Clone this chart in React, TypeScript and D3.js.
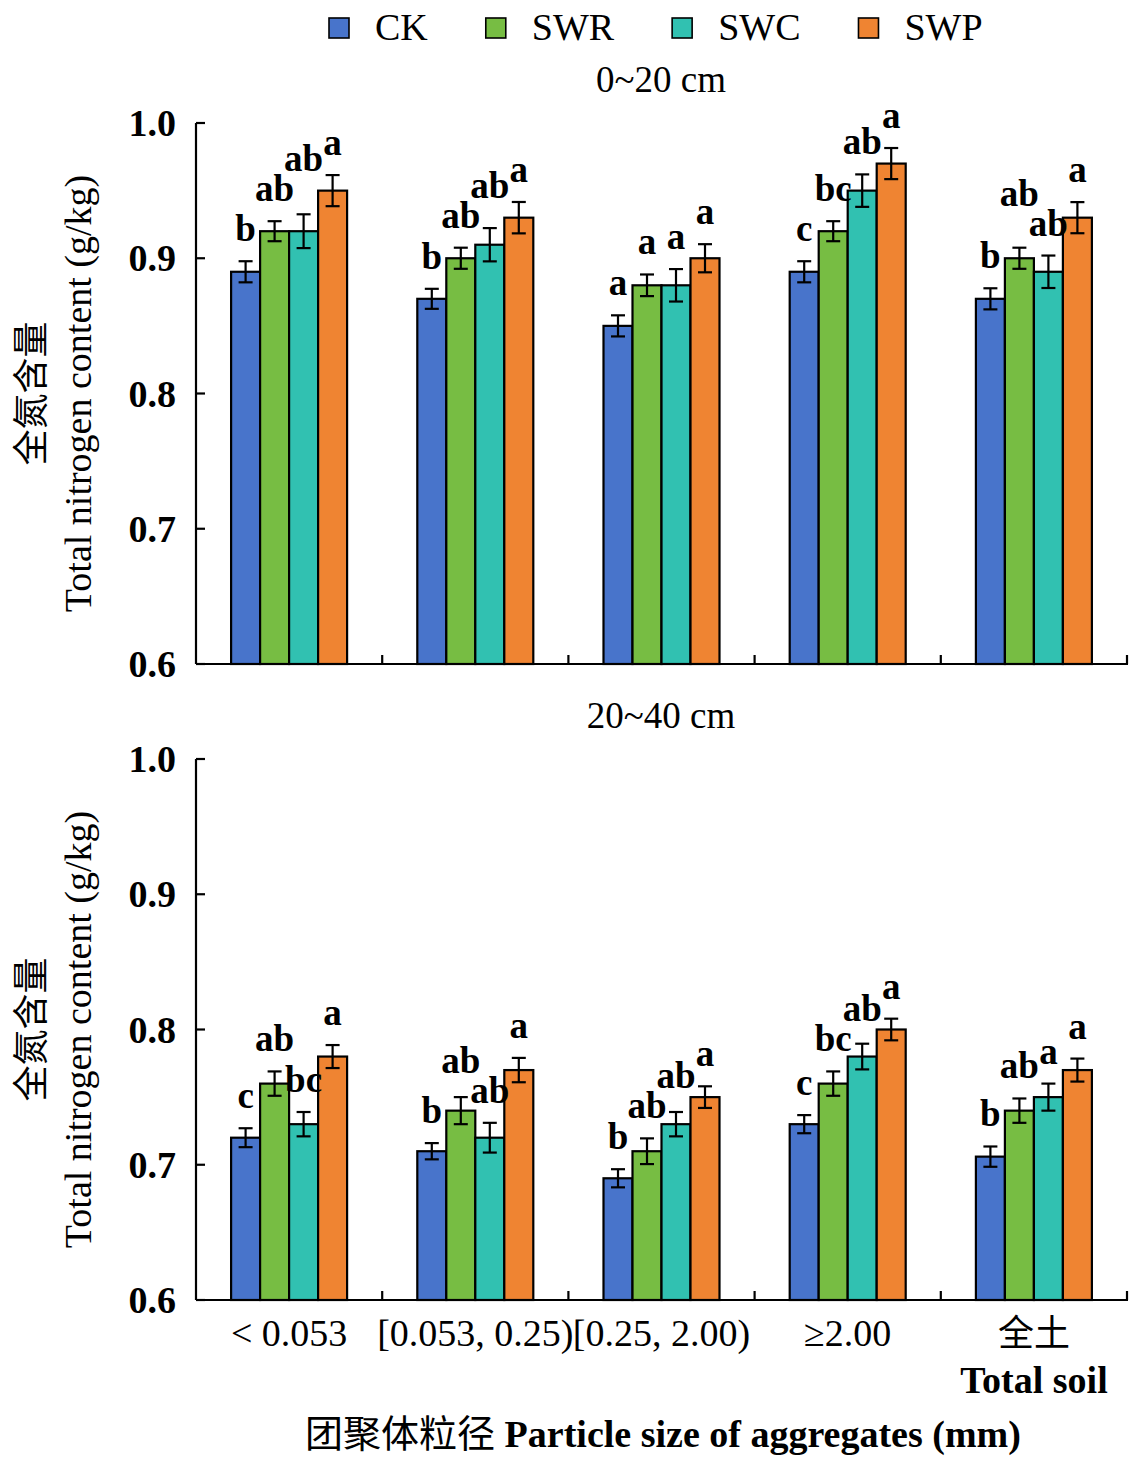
import React from "react";
import * as d3 from "d3";

const categories = ["< 0.053", "[0.053, 0.25)", "[0.25, 2.00)", "≥2.00", "全土"];
const series = ["CK", "SWR", "SWC", "SWP"];
const panelTitles = ["0~20 cm", "20~40 cm"];
const yTicks = [0.6, 0.7, 0.8, 0.9, 1.0];

// 0~20 cm: rows = CK, SWR, SWC, SWP ; cols = categories
const meansTop = [
  [0.89, 0.87, 0.85, 0.89, 0.87],
  [0.92, 0.9, 0.88, 0.92, 0.9],
  [0.92, 0.91, 0.88, 0.95, 0.89],
  [0.95, 0.93, 0.9, 0.97, 0.93],
];
const errTop = [
  [0.0078, 0.0074, 0.0078, 0.0078, 0.0078],
  [0.0074, 0.0078, 0.008, 0.0074, 0.0078],
  [0.0125, 0.0123, 0.012, 0.012, 0.012],
  [0.0115, 0.0116, 0.0104, 0.0115, 0.0115],
];
const lettersTop = [
  ["b", "b", "a", "c", "b"],
  ["ab", "ab", "a", "bc", "ab"],
  ["ab", "ab", "a", "ab", "ab"],
  ["a", "a", "a", "a", "a"],
];

// 20~40 cm
const meansBottom = [
  [0.72, 0.71, 0.69, 0.73, 0.706],
  [0.76, 0.74, 0.71, 0.76, 0.74],
  [0.73, 0.72, 0.73, 0.78, 0.75],
  [0.78, 0.77, 0.75, 0.8, 0.77],
];
const errBottom = [
  [0.007, 0.006, 0.0067, 0.0067, 0.0075],
  [0.009, 0.01, 0.0095, 0.009, 0.009],
  [0.009, 0.011, 0.009, 0.0095, 0.01],
  [0.0085, 0.009, 0.008, 0.008, 0.0085],
];
const lettersBottom = [
  ["c", "b", "b", "c", "b"],
  ["ab", "ab", "ab", "bc", "ab"],
  ["bc", "ab", "ab", "ab", "a"],
  ["a", "a", "a", "a", "a"],
];

const colors = ["#4874CB", "#77BD43", "#31C1B1", "#EF8432"];
const SERIF = "'Liberation Serif', 'Times New Roman', serif";
const CJK = "'Noto Sans CJK SC', sans-serif";

const W = 1139;
const H = 1467;
const X0 = 196;
const X1 = 1127;

const x = d3.scaleBand<string>().domain(categories).range([X0, X1]).paddingInner(0).paddingOuter(0);

function measure(text: string, font: string, fallback: number) {
  try {
    const c = document.createElement("canvas");
    const ctx = c.getContext("2d");
    if (!ctx) return fallback;
    ctx.font = font;
    const w = ctx.measureText(text).width;
    return w > 0 ? w : fallback;
  } catch (e) {
    return fallback;
  }
}

function Panel({ top, bottom, means, errs, letters, title }: any) {
  const y = d3.scaleLinear().domain([0.6, 1.0]).range([bottom, top]);
  const groupW = x.bandwidth() * 0.623;
  const inner = d3.scaleBand<string>().domain(series).range([-groupW / 2, groupW / 2]).padding(0);
  const bw = inner.bandwidth();
  const cap = 7;

  const labels: any[] = [];
  categories.forEach((c, ci) => {
    const grp: any[] = series.map((s, si) => {
      const cx = (x(c) as number) + x.bandwidth() / 2 + (inner(s) as number) + bw / 2;
      const t = letters[si][ci];
      return {
        key: `${ci}-${si}`,
        x: cx,
        y: y(means[si][ci] + errs[si][ci]) - 20,
        t,
        w: t.length * 17.5,
      };
    });
    for (let i = 1; i < grp.length; i++) {
      const a = grp[i - 1];
      const b = grp[i];
      const xo = a.x + a.w / 2 > b.x - b.w / 2 + 1 && b.x + b.w / 2 > a.x - a.w / 2 + 1;
      if (xo && Math.abs(a.y - b.y) < 28) {
        if (b.y <= a.y) b.y = a.y - 30;
        else a.y = b.y - 30;
      }
    }
    labels.push(...grp);
  });

  const midY = (top + bottom) / 2;

  return (
    <g>
      <text x={661} y={top - 31} textAnchor="middle" fontFamily={SERIF} fontSize={37}>
        {title}
      </text>
      {categories.map((c, ci) =>
        series.map((s, si) => {
          const bx = (x(c) as number) + x.bandwidth() / 2 + (inner(s) as number);
          const v = means[si][ci];
          return (
            <rect
              key={`b${ci}-${si}`}
              x={bx}
              y={y(v)}
              width={bw}
              height={y(0.6) - y(v)}
              fill={colors[si]}
              stroke="#000"
              strokeWidth={2.2}
            />
          );
        })
      )}
      {categories.map((c, ci) =>
        series.map((s, si) => {
          const cx = (x(c) as number) + x.bandwidth() / 2 + (inner(s) as number) + bw / 2;
          const v = means[si][ci];
          const e = errs[si][ci];
          return (
            <g key={`e${ci}-${si}`} stroke="#000" strokeWidth={2.2}>
              <line x1={cx} x2={cx} y1={y(v - e)} y2={y(v + e)} />
              <line x1={cx - cap} x2={cx + cap} y1={y(v + e)} y2={y(v + e)} />
              <line x1={cx - cap} x2={cx + cap} y1={y(v - e)} y2={y(v - e)} />
            </g>
          );
        })
      )}
      {labels.map((l) => (
        <text key={l.key} x={l.x} y={l.y} textAnchor="middle" fontFamily={SERIF} fontWeight="bold" fontSize={37}>
          {l.t}
        </text>
      ))}
      <line x1={X0} x2={X0} y1={top} y2={bottom} stroke="#000" strokeWidth={2.2} />
      <line x1={X0} x2={X1 + 1} y1={bottom} y2={bottom} stroke="#000" strokeWidth={2.2} />
      {yTicks.map((t) => (
        <g key={t}>
          <line x1={X0} x2={X0 + 9} y1={y(t)} y2={y(t)} stroke="#000" strokeWidth={2.2} />
          <text x={176} y={y(t) + 13} textAnchor="end" fontFamily={SERIF} fontWeight="bold" fontSize={38}>
            {t.toFixed(1)}
          </text>
        </g>
      ))}
      {categories.map((c) => {
        const bx = (x(c) as number) + x.bandwidth();
        return <line key={c} x1={bx} x2={bx} y1={bottom} y2={bottom - 9} stroke="#000" strokeWidth={2.2} />;
      })}
      <text transform={`translate(44, ${midY}) rotate(-90)`} textAnchor="middle" fontFamily={CJK} fontSize={36}>
        全氮含量
      </text>
      <text transform={`translate(91, ${midY}) rotate(-90)`} textAnchor="middle" fontFamily={SERIF} fontSize={38}>
        Total nitrogen content (g/kg)
      </text>
    </g>
  );
}

export default function App() {
  // legend layout: swatch, gap, text, gap
  const legendX: number[] = [];
  let cur = 329;
  series.forEach((s) => {
    legendX.push(cur);
    const tw = measure(s, "38px 'Liberation Serif'", s.length * 27);
    cur += 46 + tw + 58;
  });

  return (
    <svg
      width={W}
      height={H}
      viewBox={`0 0 ${W} ${H}`}
      style={{ position: "absolute", left: 0, top: 0, background: "#fff" }}
    >
      <rect x={0} y={0} width={W} height={H} fill="#fff" />
      {series.map((s, i) => (
        <g key={s} transform={`translate(${legendX[i]}, 0)`}>
          <rect x={0} y={18} width={20} height={20} fill={colors[i]} stroke="#000" strokeWidth={1.6} />
          <text x={46} y={40} fontFamily={SERIF} fontSize={38}>
            {s}
          </text>
        </g>
      ))}
      <Panel top={123} bottom={664} means={meansTop} errs={errTop} letters={lettersTop} title={panelTitles[0]} />
      <Panel top={759} bottom={1300} means={meansBottom} errs={errBottom} letters={lettersBottom} title={panelTitles[1]} />
      {categories.map((c) => {
        const cx = (x(c) as number) + x.bandwidth() / 2;
        const isCJK = c === "全土";
        return (
          <text key={c} x={cx} y={1346} textAnchor="middle" fontFamily={isCJK ? CJK : SERIF} fontSize={isCJK ? 36 : 38}>
            {c}
          </text>
        );
      })}
      <text x={1034} y={1393} textAnchor="middle" fontFamily={SERIF} fontWeight="bold" fontSize={38}>
        Total soil
      </text>
      <text x={663} y={1447} textAnchor="middle" fontSize={38}>
        <tspan fontFamily={CJK}>团聚体粒径</tspan>
        <tspan fontFamily={SERIF} fontWeight="bold">
          {" Particle size of aggregates (mm)"}
        </tspan>
      </text>
    </svg>
  );
}
